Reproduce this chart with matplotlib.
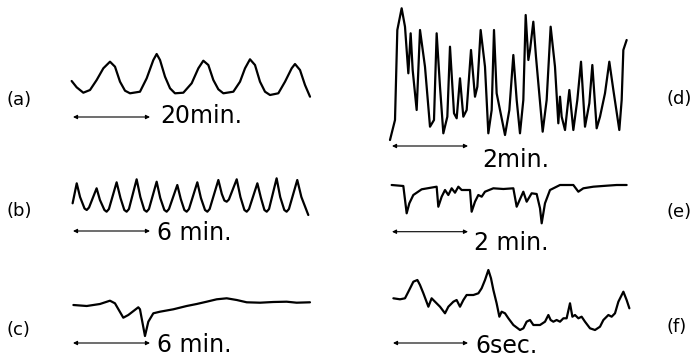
import matplotlib
matplotlib.use("Agg")
import matplotlib.pyplot as plt

a_t = [-0.35, 0.95, 2.68, 4.42, 6.15, 7.88, 9.61, 10.91, 12.21, 13.51, 14.81, 17.40,
       19.14, 20.87, 21.73, 22.60, 23.90, 25.20, 26.49, 28.66, 30.82, 32.56, 33.85,
       35.15, 36.45, 37.75, 39.05, 41.65, 43.38, 44.68, 45.97, 47.27, 48.57, 49.87,
       51.17, 53.33, 55.07, 56.80, 57.66, 58.96, 60.26, 61.56]
a_v = [19.0, 12.7, 7.3, 10.0, 20.0, 31.7, 38.3, 33.3, 18.3, 9.3, 6.7, 8.3,
       21.7, 40.0, 46.0, 40.0, 23.3, 11.7, 6.7, 7.3, 16.7, 31.7, 39.3,
       35.0, 20.0, 10.7, 6.7, 8.3, 18.3, 31.7, 40.7, 35.0, 18.3, 8.3,
       5.0, 6.7, 18.3, 31.7, 36.0, 30.0, 15.0, 3.3]

b_t = [-0.03, 0.29, 0.55, 0.90, 1.07, 1.25, 1.84, 2.10, 2.45, 2.62, 2.80, 3.40,
       3.70, 4.00, 4.18, 4.36, 4.96, 5.25, 5.56, 5.74, 5.92, 6.52, 6.80, 7.12,
       7.30, 7.48, 8.13, 8.40, 8.68, 8.86, 9.04, 9.69, 9.97, 10.29, 10.47, 10.65,
       11.33, 11.60, 11.80, 11.98, 12.15, 12.76, 13.05, 13.36, 13.54, 13.72, 14.37,
       14.65, 14.92, 15.10, 15.28, 15.87, 16.15, 16.47, 16.65, 16.83, 17.48, 17.80,
       18.34]
b_v = [-3.3, 16.7, 3.0, -8.5, -10.0, -7.5, 11.7, 0.0, -10.0, -11.7, -9.0, 17.7,
       2.0, -10.0, -11.7, -9.0, 20.7, 3.0, -10.0, -11.7, -9.0, 18.3, 2.0, -10.0,
       -11.7, -9.0, 15.0, 1.0, -10.0, -11.7, -9.0, 17.7, 2.0, -10.0, -11.7, -9.0,
       20.0, 6.0, -0.5, -1.7, 0.5, 20.7, 3.0, -10.0, -11.7, -9.0, 16.7,
       2.0, -10.0, -11.7, -9.0, 21.7, 3.0, -10.0, -11.7, -9.0, 20.0, 3.0,
       -15.0]

c_t = [0.03, 1.07, 2.10, 2.88, 3.27, 3.92, 4.31, 5.09, 5.22, 5.61, 5.87, 6.26,
       6.78, 7.82, 8.86, 9.64, 10.42, 11.20, 11.98, 12.76, 13.54, 14.58, 15.61,
       16.65, 17.43, 18.47]
c_v = [-5.0, -6.0, -4.0, -0.7, -3.3, -17.7, -15.0, -7.3, -9.3, -36.0, -21.7, -13.3,
       -11.7, -9.3, -6.0, -4.0, -1.7, 0.7, 1.7, 0.0, -2.3, -2.7, -2.0,
       -1.7, -2.7, -2.3]

d_t = [-0.053, 0.035, 0.079, 0.140, 0.254, 0.342, 0.430, 0.491, 0.544, 0.649, 0.737,
       0.868, 1.000, 1.105, 1.175, 1.263, 1.351, 1.456, 1.526, 1.632, 1.702, 1.789,
       1.877, 1.965, 2.079, 2.184, 2.246, 2.333, 2.447, 2.535, 2.623, 2.684, 2.754,
       2.974, 3.088, 3.193, 3.281, 3.368, 3.456, 3.518, 3.588, 3.632, 3.719, 3.789,
       3.851, 3.965, 4.070, 4.175, 4.289, 4.377, 4.421, 4.465, 4.553, 4.667, 4.772,
       4.877, 4.974, 5.079, 5.193, 5.272, 5.386, 5.474, 5.605, 5.719, 5.825, 5.982,
       6.044, 6.088, 6.175]
d_v = [0.0, 13.3, 20.0, 110.0, 131.7, 113.3, 66.7, 106.7, 70.0, 30.0, 110.0,
       73.3, 13.3, 20.0, 106.7, 53.3, 6.7, 23.3, 93.3, 26.7, 21.7, 61.7,
       23.3, 30.0, 90.0, 43.3, 53.3, 110.0, 73.3, 6.7, 30.0, 110.0, 46.7,
       5.0, 30.0, 85.0, 40.0, 6.7, 40.0, 125.0, 80.0, 90.0, 118.3, 83.3,
       56.7, 8.3, 40.0, 113.3, 73.3, 16.7, 43.3, 23.3, 10.0, 50.0, 10.0,
       40.0, 78.3, 13.3, 36.7, 75.0, 11.7, 23.3, 46.7, 78.3, 50.0, 10.0,
       40.0, 90.0, 100.0]

e_t = [-0.009, 0.298, 0.386, 0.456, 0.561, 0.781, 1.175, 1.219, 1.307, 1.395, 1.482,
       1.570, 1.658, 1.746, 1.833, 2.053, 2.096, 2.184, 2.272, 2.360, 2.447, 2.667,
       2.930, 3.193, 3.281, 3.456, 3.544, 3.675, 3.807, 3.895, 3.939, 4.026, 4.158,
       4.421, 4.772, 4.904, 5.035, 5.298, 5.649, 5.912, 6.175]
e_v = [5.0, 4.0, -23.3, -13.3, -5.0, 0.7, 3.3, -16.7, -6.7, 0.0, -5.0,
       1.7, -2.7, 3.3, 0.0, 0.0, -21.7, -11.7, -5.0, -6.7, -1.7, 1.7,
       1.0, 1.7, -16.7, -1.7, -11.7, -3.3, -4.0, -18.3, -33.3, -13.3, 0.0,
       5.0, 5.0, -1.7, 1.7, 3.3, 4.3, 5.0, 5.0]

f_t = [0.03, 0.56, 0.96, 1.23, 1.63, 1.95, 2.16, 2.43, 2.83, 3.09, 3.36, 3.76,
       4.16, 4.43, 4.83, 5.09, 5.36, 5.63, 5.89, 6.43, 6.83, 7.09, 7.36, 7.63,
       7.84, 8.03, 8.29, 8.51, 8.69, 8.96, 9.23, 9.63, 10.16, 10.43, 10.69, 10.96,
       11.23, 11.76, 12.16, 12.43, 12.61, 12.83, 13.09, 13.36, 13.63, 13.89, 14.16,
       14.35, 14.56, 14.83, 15.09, 15.36, 15.76, 16.16, 16.56, 16.83, 17.23, 17.49,
       17.76, 18.03, 18.43, 18.69, 18.91]
f_v = [1.7, 0.7, 1.7, 8.3, 18.3, 20.0, 15.0, 6.7, -6.7, 1.7, -1.7, -6.7,
       -13.3, -6.7, -1.7, 0.0, -6.7, 0.0, 5.0, 5.0, 6.7, 11.7, 20.0, 30.0,
       21.7, 10.0, -3.3, -16.7, -11.7, -13.3, -18.3, -25.0, -30.0, -28.3, -21.7, -20.0,
       -25.0, -25.0, -21.7, -15.0, -20.0, -21.7, -20.0, -21.7, -18.3, -18.3, -3.3,
       -16.7, -15.0, -18.3, -16.7, -21.7, -28.3, -30.0, -26.7, -20.0, -15.0, -16.7,
       -13.3, -1.7, 8.3, 0.0, -8.3]

panel_labels = ["(a)", "(b)", "(c)", "(d)", "(e)", "(f)"]
bar_lengths = [20, 6, 6, 2, 2, 6]
bar_texts = ["20min.", "6 min.", "6 min.", "2min.", "2 min.", "6sec."]

W, H = 694, 360

# layout (pixels): t=0 position, px per time unit, v=0 row, bar row, text baseline, text gap
layout = [
    (73, 3.85, 100, -17, -22.7, 10),
    (73, 12.83, 200, -31, -40.0, 7),
    (73, 12.83, 300, -43, -51.7, 7),
    (392, 38.0, 140, -6, -26.7, 14),
    (392, 38.0, 190, -41.7, -60.0, 6),
    (393, 12.5, 300, -43, -53.3, 7),
]
traces = [(a_t, a_v), (b_t, b_v), (c_t, c_v), (d_t, d_v), (e_t, e_v), (f_t, f_v)]
label_pos = [(7, 100), (7, 211), (7, 330), (667, 99), (667, 212), (667, 327)]

fig = plt.figure(figsize=(W / 100, H / 100), dpi=100)
fig.patch.set_facecolor("white")

for (t, v), (x0, s, yb, vbar, vtxt, gap), T, txt in zip(traces, layout, bar_lengths, bar_texts):
    ax = fig.add_axes([0, 0, 1, 1])
    ax.patch.set_alpha(0)
    ax.set_xlim(-x0 / s, (W - x0) / s)
    ax.set_ylim(yb - H, yb)
    ax.axis("off")
    ax.plot(t, v, color="black", lw=1.6, solid_joinstyle="round", solid_capstyle="round")
    ax.annotate("", xy=(T, vbar), xytext=(0, vbar),
                arrowprops=dict(arrowstyle="<|-|>", lw=0.8, color="black",
                                mutation_scale=6, shrinkA=0, shrinkB=0))
    ax.text(T + gap / s, vtxt, txt, fontsize=17, family="DejaVu Sans",
            ha="left", va="baseline", color="black")

for lab, (x, y) in zip(panel_labels, label_pos):
    fig.text(x / W, 1 - y / H, lab, fontsize=13, family="DejaVu Sans",
             ha="left", va="center", color="black")

fig.savefig("out.png", dpi=100, facecolor="white")
